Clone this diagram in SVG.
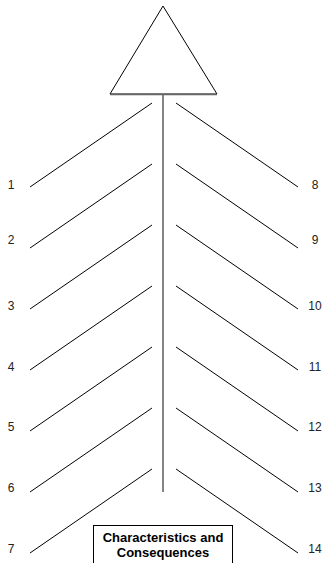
<svg xmlns="http://www.w3.org/2000/svg" width="328" height="563" viewBox="0 0 328 563">
<style>
.bone{stroke:#000;stroke-width:1;fill:none}
.spine{stroke:#666;stroke-width:1.6;fill:none}
.lbl{font-family:"Liberation Sans",Arial,sans-serif;font-size:12px;fill:#222;text-anchor:middle}
.title{font-family:"Liberation Sans",Arial,sans-serif;font-size:13px;font-weight:bold;fill:#000;text-anchor:middle}
</style>
<rect width="328" height="563" fill="#fff"/>
<g id="head">
<polygon points="163,6 110,94 217,94" fill="#fff" stroke="#000" stroke-width="1"/>
</g>
<g id="connectors">
<line class="spine" x1="110" y1="94.5" x2="217" y2="94.5"/>
<line class="spine" x1="163" y1="94" x2="163" y2="492"/>
<line class="bone" x1="30" y1="187" x2="152" y2="103"/>
<line class="bone" x1="30" y1="248" x2="152" y2="164"/>
<line class="bone" x1="30" y1="309" x2="152" y2="225"/>
<line class="bone" x1="30" y1="370" x2="152" y2="286"/>
<line class="bone" x1="30" y1="431" x2="152" y2="347"/>
<line class="bone" x1="30" y1="492" x2="152" y2="408"/>
<line class="bone" x1="30" y1="553" x2="152" y2="469"/>
<line class="bone" x1="176" y1="103" x2="298" y2="187"/>
<line class="bone" x1="176" y1="164" x2="298" y2="248"/>
<line class="bone" x1="176" y1="225" x2="298" y2="309"/>
<line class="bone" x1="176" y1="286" x2="298" y2="370"/>
<line class="bone" x1="176" y1="347" x2="298" y2="431"/>
<line class="bone" x1="176" y1="408" x2="298" y2="492"/>
<line class="bone" x1="176" y1="469" x2="298" y2="553"/>
</g>
<g id="labels-left">
<text class="lbl" x="11" y="189">1</text>
<text class="lbl" x="11" y="244">2</text>
<text class="lbl" x="11" y="310">3</text>
<text class="lbl" x="11" y="371">4</text>
<text class="lbl" x="11" y="431">5</text>
<text class="lbl" x="11" y="492">6</text>
<text class="lbl" x="11" y="553">7</text>
</g>
<g id="labels-right">
<text class="lbl" x="315" y="189">8</text>
<text class="lbl" x="315" y="244">9</text>
<text class="lbl" x="315" y="310">10</text>
<text class="lbl" x="315" y="371">11</text>
<text class="lbl" x="315" y="431">12</text>
<text class="lbl" x="315" y="492">13</text>
<text class="lbl" x="315" y="553">14</text>
</g>
<g id="effect">
<rect x="93.5" y="525.5" width="139" height="45" fill="#fff" stroke="#000" stroke-width="1"/>
<text class="title" x="163" y="541.5">Characteristics and</text>
<text class="title" x="163" y="557">Consequences</text>
</g>
</svg>
